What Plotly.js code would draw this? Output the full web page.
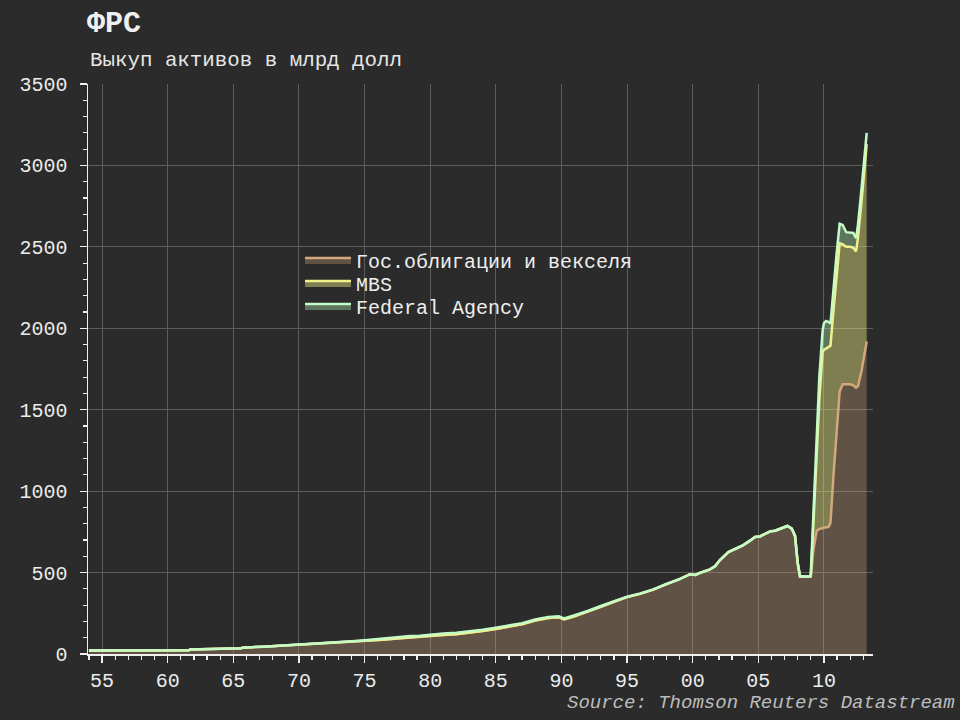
<!DOCTYPE html>
<html>
<head>
<meta charset="utf-8">
<script src="https://cdn.plot.ly/plotly-3.0.1.min.js"></script>
<style>html,body{margin:0;padding:0;background:#2b2b2b;}#chart{width:960px;height:720px;}</style>
</head>
<body>
<div id="chart"></div>
<script>
// time in decimal years
const years = [1954.0,1955.0,1956.0,1957.0,1958.0,1959.0,1960.0,1961.0,1961.6,1961.7,1962.5,1963.5,1964.2,1964.3,1965.0,1965.6,1965.7,1966.3,1967.3,1968.2,1969.1,1970.0,1970.7,1971.4,1972.2,1972.9,1974.0,1975.0,1976.4,1977.5,1978.5,1979.2,1980.0,1981.0,1982.0,1983.0,1984.0,1985.0,1986.0,1987.0,1988.0,1989.0,1989.8,1990.2,1991.0,1992.0,1993.0,1994.0,1995.0,1996.0,1997.0,1998.0,1999.0,1999.8,2000.2,2000.56,2001.32,2001.7,2002.08,2002.72,2002.97,2003.86,2004.37,2004.75,2005.13,2005.9,2006.28,2006.66,2007.22,2007.55,2007.8,2008.0,2008.18,2008.7,2008.94,2009.0,2009.2,2009.45,2009.65,2009.9,2010.0,2010.16,2010.34,2010.5,2010.72,2010.97,2011.2,2011.43,2011.7,2011.99,2012.24,2012.45,2012.6,2012.88,2013.26];
// Гос.облигации и векселя (bn USD)
const treasury = [22,22,22,22,23,23,23,23,23,27,28,29,30,34,35,36,39,40,45,49,53,57,60,62,67,70,74,78,88,95,102,104,111,117,121,130,141,154,167,182,205,221,226,212,232,259,290,321,349,369,395,429,460,490,485,498,520,538,577,626,636,669,696,718,722,753,757,768,786,770,725,560,476,476,476,476,640,757,768,775,776,778,779,805,1086,1371,1612,1656,1656,1656,1650,1635,1645,1744,1919];
// MBS
const mbs = [0,0,0,0,0,0,0,0,0,0,0,0,0,0,0,0,0,0,0,0,0,0,0,0,0,0,0,0,0,0,0,0,0,0,0,0,0,0,0,0,0,0,0,0,0,0,0,0,0,0,0,0,0,0,0,0,0,0,0,0,0,0,0,0,0,0,0,0,0,0,0,0,0,0,0,2,160,443,792,1078,1092,1097,1106,1088,1014,959,910,859,844,844,845,837,915,1046,1211];
// Federal Agency
const agency = [0,0,0,0,0,0,0,0,0,0,0,0,0,0,0,0,0,0,0,0,0,0,0,1,1,2,4,6,7,8,8,8,9,9,9,9,8,8,8,7,7,7,6,6,6,5,5,4,3,3,2,1,0,0,0,0,0,0,0,0,0,0,0,0,0,0,0,0,0,0,0,0,0,0,0,12,80,100,140,132,162,170,155,137,140,130,120,120,90,87,90,82,80,80,70];

const seriesNames = ['Гос.облигации и векселя','MBS','Federal Agency'];
const xTickVals = [1955,1960,1965,1970,1975,1980,1985,1990,1995,2000,2005,2010];
const xTickText = ['55','60','65','70','75','80','85','90','95','00','05','10'];

const mono = '"Courier New", "Liberation Mono", monospace';
const lineColors = ['#d2a87c','#f2f08a','#c4fcc8'];
const fillColors = ['rgba(205,165,125,0.33)','rgba(240,240,130,0.42)','rgba(190,255,190,0.35)'];
const vals = [treasury, mbs, agency];
const legendIds = ['legend','legend2','legend3'];

const traces = vals.map((v,i)=>({
  type:'scatter', mode:'lines', x: years, y: v, name: seriesNames[i],
  stackgroup:'one', line:{color:lineColors[i], width:2.5},
  fillcolor: fillColors[i], hoverinfo:'skip', legend: legendIds[i]
}));

function legendAt(yPix){
  return {x:(300-88)/785, y:(654-yPix)/570, xanchor:'left', yanchor:'middle', bgcolor:'rgba(0,0,0,0)',
          itemwidth:46, font:{family:mono, size:20, color:'#eeeeee'}};
}

const layout = {
  width:960, height:720,
  paper_bgcolor:'#2b2b2b', plot_bgcolor:'#2b2b2b',
  margin:{l:88, r:87, t:84, b:66},
  font:{family:mono, color:'#e6e6e6', size:20},
  title:{text:'<b>ФРС</b>', x:87/960, xanchor:'left', xref:'container', y:1-21/720, yanchor:'middle', yref:'container',
         font:{family:mono, size:30, color:'#f0f0f0'}},
  showlegend:true,
  legend:legendAt(260),
  legend2:legendAt(283),
  legend3:legendAt(306),
  xaxis:{range:[1953.93,2013.74], tickmode:'array', tickvals:xTickVals, ticktext:xTickText,
         showline:true, linecolor:'#f0f0f0', linewidth:1.5, ticks:'outside', ticklen:7, tickwidth:1.2, tickcolor:'#f0f0f0',
         showgrid:true, gridcolor:'#5c5c5c', gridwidth:1, zeroline:false,
         tickfont:{family:mono, size:20, color:'#ececec'},
         minor:{tickmode:'linear', tick0:1954, dtick:1, ticks:'outside', ticklen:4, tickwidth:1.2, tickcolor:'#f0f0f0', showgrid:false}},
  yaxis:{range:[0,3500], tickmode:'linear', tick0:0, dtick:500,
         showline:true, linecolor:'#f0f0f0', linewidth:1.5, ticks:'outside', ticklen:7, tickwidth:1.2, tickcolor:'#f0f0f0',
         showgrid:true, gridcolor:'#5c5c5c', gridwidth:1, zeroline:false, ticklabelstandoff:8,
         tickfont:{family:mono, size:20, color:'#ececec'},
         minor:{tickmode:'linear', tick0:0, dtick:100, ticks:'outside', ticklen:4, tickwidth:1.2, tickcolor:'#f0f0f0', showgrid:false}},
  annotations:[
    {text:'Выкуп активов в млрд долл', xref:'paper', yref:'paper', x:0, y:(654-60)/570, xanchor:'left', yanchor:'middle',
     showarrow:false, font:{family:mono, size:20.8, color:'#e6e6e6'}},
    {text:'Source: Thomson Reuters Datastream', xref:'paper', yref:'paper', x:(957-88)/785, y:(654-703)/570, xanchor:'right', yanchor:'middle',
     showarrow:false, font:{family:mono, size:19, color:'#bdbdbd', style:'italic'}}
  ]
};

Plotly.newPlot('chart', traces, layout, {staticPlot:true, displayModeBar:false});
</script>
</body>
</html>
